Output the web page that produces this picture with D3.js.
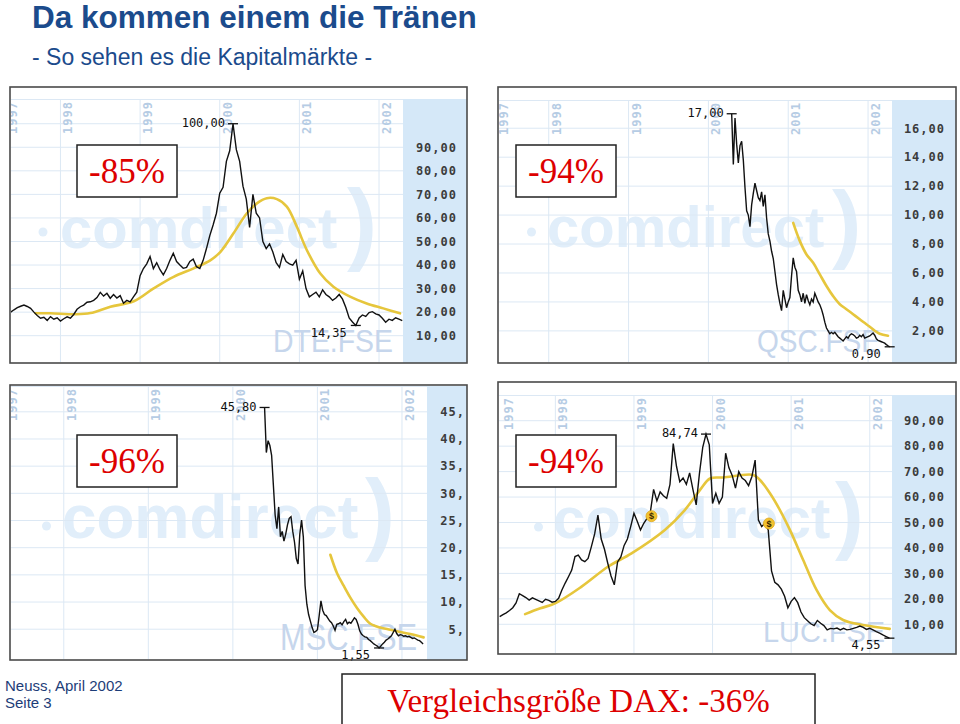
<!DOCTYPE html>
<html><head><meta charset="utf-8">
<script src="https://cdn.jsdelivr.net/npm/d3@7"></script>
<style>html,body{margin:0;padding:0;background:#fff;}svg{display:block}</style>
</head><body>
<svg id="c" width="960" height="724"></svg>
<script>
// ---------- DATA ----------
const titleText = "Da kommen einem die Tränen";
const subtitleText = "- So sehen es die Kapitalmärkte -";
const footerLines = ["Neuss, April 2002", "Seite 3"];
const daxText = "Vergleichsgröße DAX: -36%";

const yearTicks = [1997, 1998, 1999, 2000, 2001, 2002];
const yearLabels = ["1997", "1998", "1999", "2000", "2001", "2002"];

const tickers = ["DTE.FSE", "QSC.FSE", "MSC.FSE", "LUC.FSE"];
const changes = ["-85%", "-94%", "-96%", "-94%"];

// Deutsche Telekom: half-monthly closes from May 1997
const dteStart = 1997 + 9 / 24, dteStep = 1 / 24;
const dteValues = [20.0,21.0,21.9,22.5,23.0,22.4,21.6,20.0,18.6,17.4,
17.8,16.5,18.1,17.0,17.6,16.2,17.2,18.0,17.4,19.0,
21.2,22.3,23.0,24.2,24.4,25.0,26.2,28.4,26.8,28.0,
25.9,27.5,26.0,27.0,23.8,25.0,24.4,26.5,28.5,35.5,
38.5,40.5,43.6,38.5,41.0,38.0,35.8,38.5,42.0,45.0,
41.5,40.0,38.6,39.0,41.5,42.5,39.3,38.5,42.0,47.0,
52.5,57.0,62.0,70.5,73.0,84.0,88.5,100.0,89.0,84.0,
73.5,68.0,56.0,70.0,62.0,60.0,50.0,47.0,49.0,45.5,
41.0,39.0,44.5,41.5,40.5,40.0,42.0,34.0,37.5,30.0,
26.5,27.5,28.5,26.5,29.5,27.5,26.5,25.0,26.0,27.5,
25.5,22.0,17.5,15.8,14.35,17.5,18.8,18.2,19.8,20.2,
19.3,18.8,17.4,15.7,17.0,16.5,17.6,17.0,16.4];
const dteMA = [[1997.687,19.5],[1997.875,19.5],[1998.188,19.1],[1998.376,19.6],[1998.627,22.3],[1998.920,24.6],[1999.170,30.1],[1999.421,35.0],[1999.672,38.6],[1999.881,42.0],[2000.006,45.5],[2000.173,53.5],[2000.341,62.0],[2000.466,66.2],[2000.591,68.4],[2000.717,68.0],[2000.842,64.8],[2000.968,56.3],[2001.093,46.4],[2001.260,36.5],[2001.427,30.8],[2001.636,26.6],[2001.845,23.7],[2002.054,21.6],[2002.263,19.5]];
const dteGrid = [10,20,30,40,50,60,70,80,90,100];
const dteTicks = [10,20,30,40,50,60,70,80,90];
const dteTickLabels = ["10,00","20,00","30,00","40,00","50,00","60,00","70,00","80,00","90,00"];

// QSC: weekly closes from April 2000
const qscStart = 1997 + 158 / 48, qscStep = 1 / 48;
const qscValues = [17.0,13.5,16.7,14.9,13.6,14.8,15.1,13.8,11.9,10.3,
10.0,9.2,10.7,11.5,12.2,11.7,11.2,11.0,11.6,10.6,
11.4,9.8,8.7,8.2,7.5,7.0,6.1,5.2,4.5,3.9,
3.4,4.8,4.2,3.6,4.0,4.3,5.8,7.05,6.4,6.1,
4.8,4.5,4.0,4.6,3.9,4.5,4.1,3.8,4.2,4.0,
4.6,4.3,4.0,3.8,3.5,3.1,2.6,2.2,2.0,1.8,
1.9,1.8,1.9,1.75,1.6,1.5,1.4,1.3,1.45,1.6,
1.5,1.7,1.8,1.75,1.65,1.5,1.55,1.7,1.6,1.75,
1.5,1.55,1.6,1.65,1.75,1.85,1.7,1.45,1.35,1.3,
1.25,1.2,1.15,1.05,0.97,0.90];
const qscMA = [[2001.0625,9.46],[2001.146,8.2],[2001.229,7.28],[2001.3125,6.7],[2001.396,5.9],[2001.479,5.1],[2001.5625,4.4],[2001.646,3.84],[2001.729,3.5],[2001.8125,3.15],[2001.896,2.8],[2001.979,2.46],[2002.0625,2.1],[2002.146,1.8],[2002.25,1.66]];
const qscGrid = [2,4,6,8,10,12,14,16];
const qscTicks = [2,4,6,8,10,12,14,16];
const qscTickLabels = ["2,00","4,00","6,00","8,00","10,00","12,00","14,00","16,00"];

// MSC: weekly closes from May 2000
const mscStart = 1997 + 162 / 48, mscStep = 1 / 48;
const mscValues = [45.8,37.5,39.7,38.8,37.0,31.5,26.0,23.5,27.5,22.0,
23.0,21.2,22.5,24.2,25.4,25.7,23.0,21.0,18.0,17.0,
22.5,25.1,22.0,13.0,9.6,7.7,6.5,5.3,4.4,4.6,
4.9,7.5,10.2,8.5,7.7,7.5,7.0,6.5,6.2,5.6,
4.8,5.9,6.0,6.2,5.8,6.4,6.8,6.0,6.3,6.1,
6.6,7.1,6.8,5.9,4.7,4.1,3.8,3.6,3.5,3.1,
2.9,2.6,2.3,2.1,1.9,1.55,1.9,2.3,2.6,3.0,
3.2,3.5,3.8,4.4,5.0,4.2,3.8,4.0,3.9,3.7,
3.8,3.6,3.7,3.5,3.3,3.4,3.2,3.0,2.9,2.6,
2.3];
const mscMA = [[2001.153,18.7],[2001.232,15.3],[2001.310,13.0],[2001.389,10.8],[2001.468,8.9],[2001.547,7.3],[2001.626,6.0],[2001.744,5.3],[2001.862,4.9],[2001.980,4.5],[2002.099,4.1],[2002.256,3.5]];
const mscGrid = [5,10,15,20,25,30,35,40,45];
const mscTicks = [5,10,15,20,25,30,35,40,45];
const mscTickLabels = ["5,","10,","15,","20,","25,","30,","35,","40,","45,"];

// Lucent: half-monthly closes from April 1997
const lucStart = 1997 + 7 / 24, lucStep = 1 / 24;
const lucValues = [13.0,13.8,14.5,15.4,16.5,18.4,22.0,21.3,20.5,19.5,
20.4,19.8,19.2,18.6,19.8,19.4,18.7,19.0,20.2,23.5,
26.2,28.7,31.3,36.6,37.2,35.3,34.6,35.9,40.5,45.5,
52.9,43.5,39.5,34.0,29.0,25.5,34.5,36.5,41.0,43.5,
48.4,53.6,50.5,47.1,49.7,51.6,54.0,63.0,58.5,62.0,
60.5,59.5,65.0,81.0,72.0,66.0,67.5,65.0,69.5,63.0,
56.9,69.3,79.5,84.74,80.5,57.5,61.5,57.5,60.0,77.2,
71.5,68.5,63.5,70.0,67.5,66.5,64.5,68.0,74.5,51.0,
48.4,49.7,47.1,31.0,26.5,25.5,23.8,21.0,16.5,19.0,
20.5,18.5,14.8,12.6,11.4,10.2,9.5,11.5,10.4,9.5,
7.8,8.4,8.2,8.5,7.8,8.4,7.8,8.0,8.4,8.8,
9.3,8.8,8.0,8.4,7.8,7.1,6.5,5.8,5.2,4.55];
const lucMA = [[1997.615,14.0],[1997.810,16.3],[1997.996,18.2],[1998.334,24.8],[1998.673,32.7],[1998.969,37.9],[1999.393,47.1],[1999.647,54.9],[1999.841,62.8],[1999.968,67.3],[2000.138,67.7],[2000.519,68.7],[2000.603,66.7],[2000.730,61.5],[2000.857,54.9],[2000.984,47.1],[2001.153,35.3],[2001.323,23.5],[2001.492,15.6],[2001.661,11.7],[2001.915,9.7],[2002.254,8.2]];
const lucEvents = [[1999.223,52.5],[2000.717,49.6]];
const lucGrid = [10,20,30,40,50,60,70,80,90];
const lucTicks = [10,20,30,40,50,60,70,80,90];
const lucTickLabels = ["10,00","20,00","30,00","40,00","50,00","60,00","70,00","80,00","90,00"];

// ---------- LAYOUT ----------
const panels = [
  {ticker:tickers[0], pct:changes[0], values:dteValues, start:dteStart, step:dteStep, ma:dteMA, events:[],
   grid:dteGrid, ticks:dteTicks, tickLabels:dteTickLabels,
   frame:[10,87,467,363], plot:[11,99,403,362], xDom:[1997.379,2002.301], yDom:[-1.17,110.5],
   labelRight:457, y97:6, box:[77,145,100,52],
   wm:{dot:[43,232], tx:60, ty:248, size:58, px:347, py:253, psize:90},
   tk:{x:273, y:352, w:120, size:32}},
  {ticker:tickers[1], pct:changes[1], values:qscValues, start:qscStart, step:qscStep, ma:qscMA, events:[],
   grid:qscGrid, ticks:qscTicks, tickLabels:qscTickLabels,
   frame:[498,87,956,363], plot:[499,100,892,362], xDom:[1997.377,2002.30], yDom:[-0.15,17.95],
   labelRight:945, y97:9, box:[516,145,100,52],
   wm:{dot:[531.5,232], tx:547, ty:247, size:58, px:832, py:252, psize:88},
   tk:{x:757, y:352, w:123, size:32}},
  {ticker:tickers[2], pct:changes[2], values:mscValues, start:mscStart, step:mscStep, ma:mscMA, events:[],
   grid:mscGrid, ticks:mscTicks, tickLabels:mscTickLabels,
   frame:[10,385,467,660], plot:[11,386,427,659], xDom:[1997.376,2002.296], yDom:[-0.48,49.75],
   labelRight:465, y97:6, box:[77,435,100,52],
   wm:{dot:[46.5,526], tx:62, ty:538, size:62, px:365, py:543, psize:90},
   tk:{x:280, y:650, w:137, size:37}},
  {ticker:tickers[3], pct:changes[3], values:lucValues, start:lucStart, step:lucStep, ma:lucMA, events:lucEvents,
   grid:lucGrid, ticks:lucTicks, tickLabels:lucTickLabels,
   frame:[498,382,956,654], plot:[499,395,892,653], xDom:[1997.283,2002.283], yDom:[-1.28,100.1],
   labelRight:945, y97:14, box:[516,435,100,52],
   wm:{dot:[538.5,527], tx:553, ty:538, size:58, px:835, py:543, psize:86},
   tk:{x:763, y:642, w:122, size:30}}
];

const svg = d3.select("#c");
svg.append("rect").attr("width",960).attr("height",724).attr("fill","#fff");

// title
svg.append("text").attr("x",32).attr("y",28).text(titleText)
  .attr("font-family","Liberation Sans, Arial, sans-serif").attr("font-weight","bold")
  .attr("font-size",31.5).attr("fill","#1b4b8c");
svg.append("text").attr("x",32).attr("y",65).text(subtitleText)
  .attr("font-family","Liberation Sans, Arial, sans-serif")
  .attr("font-size",23).attr("fill","#1b4b8c");

const fmt = v => v.toFixed(2).replace(".", ",");
const mono = "DejaVu Sans Mono, monospace";

panels.forEach((p, pi) => {
  const [fx0, fy0, fx1, fy1] = p.frame;
  const [px0, py0, px1, py1] = p.plot;
  const x = d3.scaleLinear().domain(p.xDom).range([px0, px1]);
  const y = d3.scaleLinear().domain(p.yDom).range([py1, py0]);
  const g = svg.append("g");
  const clipId = "clip" + pi;
  g.append("clipPath").attr("id", clipId).append("rect")
    .attr("x", px0).attr("y", py0).attr("width", px1 - px0).attr("height", py1 - py0);

  g.append("rect").attr("x", fx0).attr("y", fy0).attr("width", fx1 - fx0).attr("height", fy1 - fy0).attr("fill", "#fff");
  // right value strip
  g.append("rect").attr("x", px1).attr("y", py0).attr("width", fx1 - px1).attr("height", fy1 - py0).attr("fill", "#d5e8f8");

  const inner = g.append("g").attr("clip-path", `url(#${clipId})`);

  // watermark
  inner.append("circle").attr("cx", p.wm.dot[0]).attr("cy", p.wm.dot[1]).attr("r", 4.5).attr("fill", "#e1eefa");
  inner.append("text").attr("x", p.wm.tx).attr("y", p.wm.ty).text("comdirect")
    .attr("font-family", "Liberation Sans, Arial, sans-serif").attr("font-weight", "bold")
    .attr("font-size", p.wm.size).attr("fill", "#e1eefa");
  inner.append("text").attr("x", p.wm.px).attr("y", p.wm.py).text(")")
    .attr("font-family", "Liberation Sans, Arial, sans-serif").attr("font-weight", "bold")
    .attr("font-size", p.wm.psize).attr("fill", "#e1eefa");

  // grid
  inner.selectAll(".hg").data(p.grid).join("line")
    .attr("x1", px0).attr("x2", px1).attr("y1", d => y(d)).attr("y2", d => y(d))
    .attr("stroke", "#dce8f4").attr("stroke-width", 1);
  inner.selectAll(".vg").data(yearTicks.filter(t => t >= p.xDom[0] && t <= p.xDom[1])).join("line")
    .attr("x1", d => x(d)).attr("x2", d => x(d)).attr("y1", py0).attr("y2", py1)
    .attr("stroke", "#dce8f4").attr("stroke-width", 1);
  g.append("line").attr("x1", px0).attr("x2", px1).attr("y1", py0 + 0.5).attr("y2", py0 + 0.5)
    .attr("stroke", "#dce8f4");

  // year labels (rotated)
  inner.selectAll(".yl").data(yearTicks).join("text")
    .attr("transform", (d) => {
      const lx = d < p.xDom[0] ? px0 + p.y97 : x(d) + 12;
      return `translate(${lx},${py0 + 35}) rotate(-90)`;
    })
    .text((d, i) => yearLabels[i])
    .attr("font-family", mono).attr("font-weight", "bold").attr("font-size", 12)
    .attr("letter-spacing", 1).attr("fill", "#b6cce4");

  // ticker watermark
  inner.append("text").attr("x", p.tk.x).attr("y", p.tk.y).text(p.ticker)
    .attr("font-family", "Liberation Sans, Arial, sans-serif").attr("font-size", p.tk.size)
    .attr("textLength", p.tk.w).attr("lengthAdjust", "spacingAndGlyphs").attr("fill", "#c6d6ec");

  // value labels in strip
  g.selectAll(".tl").data(p.ticks).join("text")
    .attr("x", p.labelRight).attr("y", d => y(d)).attr("dy", "0.36em")
    .attr("text-anchor", "end").text((d, i) => p.tickLabels[i])
    .attr("font-family", mono).attr("font-weight", "bold").attr("font-size", 12)
    .attr("letter-spacing", 1).attr("fill", "#3c3c3c");

  // moving average
  inner.append("path").datum(p.ma)
    .attr("d", d3.line().x(d => x(d[0])).y(d => y(d[1])).curve(d3.curveCatmullRom))
    .attr("fill", "none").attr("stroke", "#e6c63c").attr("stroke-width", 2.6).attr("stroke-linecap", "round");

  // price line
  const tx = i => p.start + i * p.step;
  inner.append("path").datum(p.values)
    .attr("d", d3.line().x((d, i) => x(tx(i))).y(d => y(d)))
    .attr("fill", "none").attr("stroke", "#111").attr("stroke-width", 1.4).attr("stroke-linejoin", "miter");

  // event markers
  p.events.forEach(e => {
    g.append("circle").attr("cx", x(e[0])).attr("cy", y(e[1])).attr("r", 5.5)
      .attr("fill", "#f2c230").attr("stroke", "#e0a820").attr("stroke-width", 0.8);
    g.append("text").attr("x", x(e[0])).attr("y", y(e[1])).attr("dy", "0.35em")
      .attr("text-anchor", "middle").text("$")
      .attr("font-family", "Liberation Sans, Arial, sans-serif").attr("font-weight", "bold")
      .attr("font-size", 9).attr("fill", "#3a2a00");
  });

  // high / low
  const hi = d3.maxIndex(p.values), lo = d3.minIndex(p.values);
  const hx = x(tx(hi)), hy = y(p.values[hi]);
  const lx = x(tx(lo)), ly = y(p.values[lo]);
  g.append("line").attr("x1", hx - 5).attr("x2", hx + 5).attr("y1", hy).attr("y2", hy).attr("stroke", "#111").attr("stroke-width", 1.3);
  g.append("line").attr("x1", lx - 5).attr("x2", lx + 5).attr("y1", ly).attr("y2", ly).attr("stroke", "#111").attr("stroke-width", 1.3);
  g.append("text").attr("x", hx - 8).attr("y", hy - 1).attr("dy", "0.36em").attr("text-anchor", "end")
    .text(fmt(p.values[hi])).attr("font-family", mono).attr("font-size", 12).attr("fill", "#111");
  g.append("text").attr("x", lx - 9).attr("y", ly + 7).attr("dy", "0.36em").attr("text-anchor", "end")
    .text(fmt(p.values[lo])).attr("font-family", mono).attr("font-size", 12).attr("fill", "#111");

  // percent box
  const [bx, by, bw, bh] = p.box;
  g.append("rect").attr("x", bx).attr("y", by).attr("width", bw).attr("height", bh)
    .attr("fill", "#fff").attr("stroke", "#222").attr("stroke-width", 1.5);
  g.append("text").attr("x", bx + bw / 2).attr("y", by + 38).attr("text-anchor", "middle").text(p.pct)
    .attr("font-family", "Liberation Serif, Times New Roman, serif").attr("font-size", 35).attr("fill", "#dd0000");

  // frame
  g.append("rect").attr("x", fx0).attr("y", fy0).attr("width", fx1 - fx0).attr("height", fy1 - fy0)
    .attr("fill", "none").attr("stroke", "#4a4a4a").attr("stroke-width", 1.6);
});

// footer
svg.selectAll(".ft").data(footerLines).join("text")
  .attr("x", 5).attr("y", (d, i) => 691 + i * 17).text(d => d)
  .attr("font-family", "Liberation Sans, Arial, sans-serif").attr("font-size", 15).attr("fill", "#1d3d78");

svg.append("rect").attr("x", 342).attr("y", 674).attr("width", 473).attr("height", 70)
  .attr("fill", "#fff").attr("stroke", "#222").attr("stroke-width", 1.5);
svg.append("text").attr("x", 578.5).attr("y", 712).attr("text-anchor", "middle").text(daxText)
  .attr("font-family", "Liberation Serif, Times New Roman, serif").attr("font-size", 33).attr("fill", "#dd0000");
</script>
</body></html>
